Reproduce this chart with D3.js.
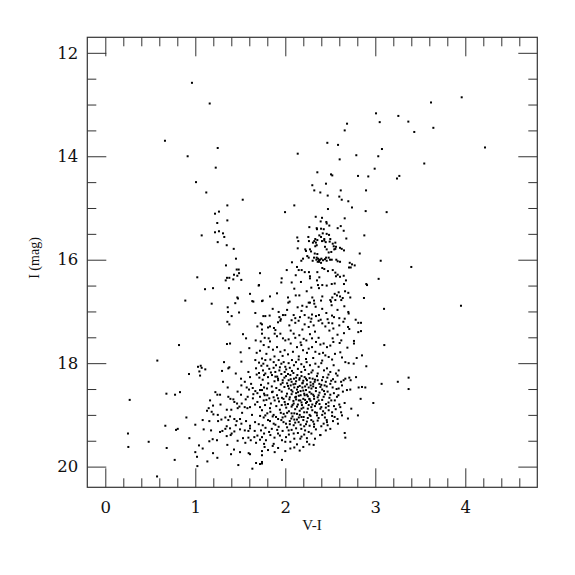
<!DOCTYPE html>
<html><head><meta charset="utf-8">
<script src="https://cdn.jsdelivr.net/npm/d3@7"></script>
<style>body{margin:0;background:#fff}</style>
</head><body>
<div id="chart"></div>
<script>
// ---- Data: [V-I, I (mag)] ----
const brightStars = [[0.963,12.58],[1.16,12.98],[0.663,13.70],[1.249,13.84],[0.915,14.00],[2.138,13.95],[1.227,14.22],[1.008,14.50],[1.122,14.70],[1.527,14.84],[1.356,14.95],[2.10,14.95],[1.219,15.11],[1.263,15.07],[1.997,15.08],[1.356,15.24],[1.244,15.29],[1.219,15.47],[1.263,15.45],[1.308,15.49],[1.322,15.56],[1.071,15.53],[2.133,15.57],
[3.96,12.86],[3.619,12.96],[3.008,13.17],[3.256,13.22],[3.367,13.33],[3.049,13.34],[2.686,13.37],[2.66,13.50],[3.645,13.45],[3.433,13.53],[2.467,13.74],[2.586,13.78],[4.219,13.83],[3.074,13.86],[2.789,13.98],[3.033,14.00],[2.604,14.06],[3.544,14.14],[2.993,14.24],[2.356,14.31],[2.508,14.35],[2.522,14.37],[2.808,14.38],[2.922,14.39],[3.241,14.43],[3.267,14.38],[2.30,14.56],[2.452,14.53],[2.322,14.66],[2.389,14.70],[2.616,14.66],[2.897,14.66],[2.471,14.76],[2.60,14.78],[2.627,14.84],[2.70,14.87],[2.741,14.99],[2.474,15.02],[2.893,15.06],[3.126,15.08],[2.338,15.17],[2.408,15.19],[2.66,15.20],[2.393,15.26],[2.456,15.27],[2.46,15.30],[2.489,15.34],[2.616,15.35],[2.267,15.37],[2.349,15.39],[2.397,15.40],[2.427,15.41],[2.352,15.41],[2.582,15.39],[2.649,15.44],[2.416,15.49],[2.46,15.50],[2.486,15.52],[2.378,15.53],[2.397,15.56],[2.878,15.53],[2.256,15.56],[2.333,15.60],[2.433,15.60],[2.50,15.60],[2.678,15.59]];

const blueBranch = [[1.249,15.66],[1.349,15.72],[1.427,15.79],[1.452,15.98],[1.341,16.11],[1.46,16.19],[1.482,16.19],[1.486,16.26],[1.43,16.29],[1.467,16.31],[1.352,16.35],[1.378,16.35],[1.022,16.34],[1.338,16.40],[1.422,16.38],[1.108,16.57],[1.197,16.55],[1.374,16.55],[1.467,16.73],[1.474,16.75],[0.889,16.79],[1.182,16.85],[1.444,16.84],[1.36,16.92],[1.363,17.01],[1.486,17.02],[1.404,17.09],[1.356,17.20],[1.378,17.25],[0.819,17.65],[1.352,17.63],[1.386,17.62],[0.578,17.95],[1.319,17.98],[1.367,18.10],[1.378,18.08],[1.03,18.07],[1.06,18.05],[1.071,18.09],[1.111,18.12],[1.511,16.39],[1.719,16.26],[1.708,16.49],[1.608,16.66],[1.704,16.50],[1.633,16.80],[1.749,16.79],[1.83,16.71],[1.908,16.65]];

const redClump = [[2.144,15.64],[2.263,15.64],[2.322,15.64],[2.356,15.62],[2.34,15.67],[2.307,15.67],[2.408,15.64],[2.433,15.63],[2.449,15.66],[2.493,15.65],[2.527,15.69],[2.556,15.67],[2.538,15.74],[2.563,15.75],[2.544,15.80],[2.556,15.79],[2.608,15.77],[2.627,15.79],[2.652,15.82],[2.138,15.78],[2.222,15.80],[2.23,15.83],[2.333,15.74],[2.349,15.72],[2.274,15.80],[2.286,15.84],[2.441,15.75],[2.46,15.80],[2.482,15.86],[2.511,15.85],[2.327,15.88],[2.356,15.89],[2.349,15.96],[2.244,15.93],[2.26,15.96],[2.197,15.98],[2.178,16.02],
[2.319,15.96],[2.345,16.0],[2.364,15.98],[2.375,16.01],[2.386,16.0],[2.401,15.98],[2.375,16.04],[2.36,16.04],[2.397,16.06],[2.419,16.01],[2.441,15.99],[2.46,16.02],[2.453,15.96],[2.482,15.96],[2.497,16.0],[2.516,16.0],
[2.304,16.02],[2.074,16.05],[2.567,16.00],[2.582,16.03],[2.608,16.04],[2.716,16.06],[2.741,16.09],[2.771,16.11],[2.708,16.15],[2.727,16.15],[2.827,15.88],[3.037,16.37],[2.90,16.47],[1.96,16.36],[2.016,16.20],[2.13,16.14],[2.149,16.20],[2.116,16.30],[2.182,16.20],[2.216,16.24],[2.263,16.24],[2.274,16.32],[2.356,16.24],[2.378,16.34],[2.352,16.40],[2.411,16.16],[2.433,16.18],[2.474,16.22],[2.527,16.20],[2.556,16.25],[2.563,16.32],[2.582,16.29],[2.608,16.33],[2.649,16.31],[2.674,16.40],[2.363,16.49],[2.374,16.55],[2.411,16.49],[2.46,16.50],[2.516,16.47],[2.549,16.46],[2.274,16.36],[2.289,16.54],[2.238,16.61],[2.174,16.43],[2.071,16.44],[2.10,16.56],[1.956,16.44],[2.116,16.69],[2.156,16.69],[2.26,16.83],[2.30,16.73],[2.319,16.79],[2.397,16.79],[2.411,16.71],[2.50,16.78],[2.522,16.73],[2.549,16.66],[2.574,16.69],[2.593,16.63],[2.608,16.71],[2.638,16.74],[2.664,16.61],[2.70,16.64],[2.652,16.47],[2.722,16.73],[2.874,16.74],[2.908,16.49],[2.03,16.73],[2.033,16.83]];

const redOutliers = [[3.06,16.02],[3.40,16.14],[3.952,16.89],[3.097,16.95],[3.10,17.65],[3.37,18.28],[3.25,18.36],[3.37,18.50],[3.07,18.40],[0.271,18.71],[0.252,19.36],[0.256,19.62]];

const leftBody = [[1.645,16.81],[1.667,17.03],[1.756,17.09],[1.69,17.29],[1.727,17.23],[1.741,17.35],[1.53,17.44],[1.564,17.52],[1.671,17.56],[1.727,17.58],[1.504,17.79],[1.60,17.71],[1.682,17.80],[1.719,17.76],[1.512,17.97],[1.667,17.94],[1.708,17.99],[1.734,18.05],[1.756,18.01],[1.045,18.16],[1.053,18.24],[0.93,18.21],[1.297,18.15],[1.308,18.36],[1.508,18.30],[1.59,18.17],[1.608,18.27],[1.675,18.10],[1.682,18.22],[1.708,18.19],[1.712,18.28],[1.749,18.32],[1.764,18.23],[1.512,18.43],[1.571,18.47],[1.597,18.51],[1.638,18.48],[1.667,18.54],[1.69,18.58],[1.719,18.52],[1.764,18.47],[1.508,18.61],[1.582,18.65],[1.645,18.60],[1.719,18.65],[1.764,18.59],[1.36,18.47],[1.367,18.65],[1.39,18.69],[1.223,18.56],[1.245,18.61],[1.275,18.61],[0.679,18.59],[0.775,18.61],[0.83,18.56],[1.164,18.72],[1.149,18.87],[1.197,18.82],[1.423,18.70],[1.434,18.75],[1.464,18.78],[1.471,18.87],[1.49,18.84],[1.516,18.78],[1.549,18.85],[1.579,18.87],[1.608,18.85],[1.664,18.80],[1.69,18.75],[1.719,18.85],[1.775,18.81],[1.13,18.92],[1.201,18.99],[1.182,18.94],[0.901,19.05],[1.082,19.10],[1.156,19.12],[1.253,19.12],[1.29,19.09],[1.334,19.05],[1.367,19.10],[1.386,19.03],[1.434,19.08],[1.46,19.12],[1.497,19.08],[1.512,19.17],[1.564,19.12],[1.608,19.21],[1.664,19.14],[1.705,19.18],[1.749,19.20],[1.0,19.19],[0.667,19.21],[0.786,19.29],[0.805,19.27],[1.093,19.28],[1.175,19.30],[1.275,19.33],[1.301,19.31],[1.334,19.27],[1.349,19.22],[1.386,19.26],[1.404,19.36],[1.434,19.32],[1.497,19.28],[1.59,19.31],[1.608,19.26],[1.66,19.31],[1.73,19.30],[1.764,19.36],[0.934,19.45],[0.482,19.52],[1.156,19.51],[1.241,19.49],[1.193,19.47],[1.349,19.41],[1.393,19.39],[1.53,19.45],[1.556,19.54],[1.59,19.44],[1.616,19.49],[1.656,19.43],[1.675,19.54],[1.719,19.48],[1.764,19.56],[1.041,19.59],[1.082,19.65],[1.356,19.58],[1.43,19.67],[1.497,19.72],[1.593,19.74],[1.608,19.76],[1.741,19.70],[0.682,19.64],[1.197,19.74],[1.245,19.83],[1.397,19.76],[1.0,19.72],[1.019,19.81],[0.771,19.87],[1.134,19.90],[1.478,19.97],[1.634,20.04],[1.675,19.93],[1.741,19.91],[1.719,19.95],[1.023,19.99],[0.575,20.19],
[1.45,18.20],[1.55,18.36],[1.62,18.40],[1.73,18.42],[1.47,18.55],[1.56,18.70],[1.64,18.68],[1.76,18.72],[1.40,18.90],[1.52,18.96],[1.63,19.00],[1.72,19.02],[1.45,19.20],[1.55,19.30],[1.69,19.40],[1.28,18.80],[1.35,18.90],[1.25,19.00],[1.47,19.50]];

const mainBody = [[1.741,16.80],[2.048,16.81],[2.137,16.92],[2.189,16.89],[2.237,16.91],[2.274,16.83],[2.322,16.85],[2.337,16.91],[2.508,16.81],[2.515,16.88],[2.556,16.78],[2.622,16.78],[2.656,16.90],[2.70,17.01],[2.704,17.04],
[1.778,17.09],[1.826,17.08],[1.926,17.01],[1.934,17.11],[1.974,17.07],[2.0,17.07],[2.093,17.07],[2.111,17.13],[2.163,17.11],[2.215,17.07],[2.26,17.12],[2.297,17.06],[2.341,17.09],[2.374,17.07],[2.393,17.16],[2.456,17.03],[2.519,17.08],[2.541,17.11],[2.60,17.13],[2.645,17.20],[2.697,17.30],[2.782,17.16],[2.811,17.22],[2.841,17.22],
[1.741,17.25],[1.808,17.31],[1.83,17.29],[1.874,17.32],[1.919,17.21],[1.945,17.18],[2.045,17.27],[2.111,17.22],[2.148,17.18],[2.215,17.25],[2.26,17.30],[2.282,17.20],[2.315,17.27],[2.37,17.18],[2.411,17.23],[2.445,17.29],[2.482,17.22],[2.522,17.23],[2.534,17.33],[2.60,17.27],[2.652,17.42],[2.711,17.34],[2.811,17.40],[2.841,17.38],
[1.741,17.43],[1.771,17.51],[1.815,17.52],[1.882,17.43],[1.908,17.48],[1.945,17.43],[1.974,17.52],[2.0,17.56],[2.037,17.54],[2.093,17.43],[2.111,17.51],[2.156,17.46],[2.204,17.53],[2.234,17.56],[2.274,17.44],[2.297,17.52],[2.341,17.59],[2.37,17.51],[2.426,17.62],[2.463,17.69],[2.526,17.52],[2.534,17.59],[2.604,17.61],[2.622,17.56],[2.763,17.57],[2.763,17.62],
[1.76,17.65],[1.815,17.69],[1.863,17.74],[1.908,17.69],[1.945,17.78],[1.993,17.75],[2.03,17.83],[2.085,17.78],[2.13,17.69],[2.178,17.65],[2.197,17.75],[2.241,17.80],[2.26,17.72],[2.297,17.69],[2.334,17.78],[2.378,17.82],[2.419,17.80],[2.445,17.85],[2.482,17.88],[2.552,17.82],[2.611,17.79],[2.667,17.98],[2.704,18.0],[2.76,18.01],[2.793,17.90],[2.852,17.85],[2.9,18.06],
[1.741,17.91],[1.778,17.94],[1.834,17.93],[1.871,17.98],[1.897,18.04],[1.926,17.94],[1.956,18.01],[1.982,17.98],[2.0,18.07],[2.037,18.0],[2.074,17.94],[2.096,18.04],[2.119,17.98],[2.148,17.93],[2.178,18.02],[2.208,18.07],[2.237,17.98],[2.274,18.04],[2.304,18.14],[2.334,18.01],[2.37,18.07],[2.4,18.0],[2.43,18.14],[2.463,18.10],[2.5,18.17],[2.537,18.04],[2.563,18.20],[2.593,18.14],[2.648,18.33],[2.667,18.30],[2.711,18.28],[2.726,18.33],[2.786,18.27],[2.815,18.47],[2.852,18.46],
[1.86,16.95],[2.02,16.97],[2.18,16.99],[2.41,16.95],[2.58,16.97],[1.95,17.15],[2.07,17.17],[2.29,17.14],[2.47,17.15],[2.66,17.14],[1.89,17.36],[2.06,17.37],[2.19,17.35],[2.33,17.39],[2.49,17.37],[2.58,17.45],[1.83,17.58],[2.06,17.62],[2.17,17.60],[2.39,17.64],[2.50,17.66],[2.69,17.70],[1.79,17.82],[1.97,17.86],[2.15,17.87],[2.31,17.90],[2.52,17.93],[2.63,17.89],[1.88,17.87],[2.23,17.92],[2.41,17.95]];

const coreBody = [[1.752,18.14],[1.778,18.20],[1.808,18.27],[1.822,18.11],[1.852,18.23],[1.889,18.17],[1.919,18.30],[1.934,18.14],[1.956,18.21],[1.971,18.33],[1.993,18.17],[2.008,18.25],[2.037,18.33],[2.056,18.23],[2.074,18.15],[2.096,18.30],[2.111,18.40],[2.134,18.23],[2.156,18.32],[2.178,18.17],[2.193,18.38],[2.215,18.27],[2.241,18.33],[2.26,18.21],[2.282,18.43],[2.304,18.30],[2.326,18.36],[2.352,18.25],[2.378,18.40],[2.408,18.33],[2.437,18.43],[2.467,18.28],[2.5,18.40],[2.526,18.47],[2.556,18.36],[2.593,18.49],[2.63,18.43],[2.685,18.52],[2.722,18.51],[2.889,18.47],
[1.741,18.52],[1.771,18.62],[1.797,18.49],[1.822,18.68],[1.852,18.56],[1.882,18.72],[1.908,18.62],[1.934,18.52],[1.963,18.67],[1.993,18.75],[2.019,18.59],[2.045,18.70],[2.067,18.52],[2.093,18.78],[2.119,18.65],[2.141,18.56],[2.167,18.72],[2.185,18.81],[2.215,18.62],[2.241,18.75],[2.267,18.69],[2.289,18.85],[2.319,18.64],[2.341,18.78],[2.37,18.72],[2.4,18.85],[2.426,18.65],[2.452,18.79],[2.482,18.91],[2.511,18.72],[2.541,18.83],[2.574,18.65],[2.611,18.85],[2.659,18.77],[2.733,18.88],[2.807,19.01],[2.837,18.69],[2.978,18.77],
[1.741,18.91],[1.778,19.01],[1.808,19.10],[1.834,18.94],[1.871,19.17],[1.897,19.04],[1.926,19.23],[1.956,19.10],[1.982,18.98],[2.008,19.17],[2.037,19.30],[2.067,19.07],[2.093,19.20],[2.13,18.98],[2.148,19.14],[2.178,19.27],[2.204,19.04],[2.23,19.18],[2.26,19.33],[2.289,19.10],[2.319,19.23],[2.352,19.01],[2.389,19.39],[2.426,19.17],[2.463,19.14],[2.5,19.27],[2.548,19.04],[2.585,19.17],[2.63,19.01],[2.696,19.07],
[1.741,19.43],[1.785,19.49],[1.834,19.39],[1.871,19.56],[1.919,19.36],[1.963,19.49],[2.008,19.43],[2.056,19.52],[2.093,19.36],[2.13,19.57],[2.167,19.46],[2.2,19.62],[2.241,19.52],[2.267,19.57],[2.315,19.58],[2.389,19.39],[2.66,19.35],[2.667,19.44],
[1.808,19.68],[1.882,19.72],[1.963,19.87],[1.741,19.78],[1.741,19.94],[2.056,19.65]];

const coreDense = [[1.80,18.05],[1.84,18.18],[1.87,18.09],[1.91,18.26],[1.94,18.08],[1.97,18.38],[2.01,18.12],[2.03,18.21],[2.05,18.09],[2.07,18.36],[2.09,18.19],[2.12,18.28],[2.14,18.11],[2.16,18.44],[2.18,18.25],[2.20,18.34],[2.22,18.13],[2.24,18.41],[2.27,18.29],[2.29,18.18],[2.31,18.45],[2.33,18.32],[2.36,18.20],[2.39,18.46],[2.42,18.27],[2.45,18.36],[2.48,18.22],[2.53,18.31],[2.58,18.24],[2.62,18.36],
[1.81,18.39],[1.85,18.45],[1.88,18.35],[1.90,18.48],[1.95,18.41],[1.99,18.46],[2.02,18.39],[2.04,18.49],[2.06,18.43],[2.08,18.55],[2.10,18.47],[2.12,18.58],[2.13,18.51],[2.15,18.63],[2.17,18.54],[2.19,18.47],[2.21,18.59],[2.23,18.52],[2.25,18.64],[2.27,18.56],[2.29,18.49],[2.31,18.61],[2.34,18.54],[2.36,18.66],[2.38,18.57],[2.41,18.51],[2.44,18.60],[2.47,18.55],[2.49,18.67],[2.54,18.58],[2.59,18.62],[2.64,18.55],
[1.79,18.71],[1.84,18.78],[1.87,18.66],[1.90,18.83],[1.93,18.74],[1.96,18.81],[1.98,18.69],[2.01,18.86],[2.03,18.79],[2.05,18.66],[2.07,18.84],[2.09,18.73],[2.11,18.89],[2.12,18.70],[2.14,18.80],[2.16,18.92],[2.18,18.76],[2.20,18.86],[2.22,18.71],[2.24,18.95],[2.26,18.81],[2.28,18.73],[2.30,18.91],[2.33,18.83],[2.35,18.96],[2.38,18.79],[2.42,18.93],[2.45,18.86],[2.48,18.76],[2.52,18.95],[2.56,18.89],[2.62,18.95],
[1.76,19.05],[1.80,18.97],[1.83,19.12],[1.86,19.03],[1.89,19.19],[1.92,19.08],[1.95,18.96],[1.98,19.14],[2.00,19.03],[2.02,19.24],[2.05,19.12],[2.07,18.97],[2.10,19.09],[2.12,19.26],[2.15,19.05],[2.17,19.19],[2.20,19.10],[2.22,19.30],[2.25,19.06],[2.27,19.21],[2.31,19.13],[2.34,19.28],[2.37,19.06],[2.40,19.22],[2.44,19.05],[2.47,19.20],[2.53,19.12],
[1.78,19.25],[1.82,19.33],[1.85,19.27],[1.88,19.44],[1.91,19.29],[1.94,19.40],[1.97,19.31],[2.00,19.52],[2.04,19.38],[2.07,19.29],[2.10,19.46],[2.14,19.35],[2.18,19.42],[2.21,19.38],[2.24,19.45],[2.29,19.36],[2.33,19.46],[2.45,19.30],
[1.77,19.62],[1.86,19.60],[1.92,19.64],[2.00,19.70],[2.10,19.63],[2.16,19.69]];

const coreCentre = [[1.92,18.33],[1.96,18.55],[1.99,18.28],[2.01,18.64],[2.03,18.44],[2.04,18.93],[2.06,18.31],[2.07,18.60],[2.08,18.81],[2.09,18.41],[2.10,18.97],[2.11,18.66],[2.12,18.35],[2.13,18.84],[2.14,18.46],[2.15,18.72],[2.16,18.29],[2.16,19.00],[2.17,18.62],[2.18,18.88],[2.19,18.39],[2.20,18.69],[2.20,18.53],[2.21,18.95],[2.22,18.45],[2.23,18.77],[2.23,18.30],[2.24,18.61],[2.25,18.88],[2.26,18.47],[2.27,18.70],[2.28,18.37],[2.28,19.02],[2.29,18.59],[2.30,18.80],[2.31,18.40],[2.32,18.69],[2.33,18.95],[2.34,18.48],[2.35,18.75],[2.36,18.33],[2.37,18.62],[2.39,18.88],[2.40,18.42],[2.41,18.71],[2.43,18.54],[2.44,18.97],[2.46,18.45],[2.48,18.83],[2.50,18.61],[2.51,18.34],[2.55,18.72],[2.57,18.50],[2.60,18.80],
[1.94,18.90],[1.97,19.05],[2.00,18.80],[2.02,18.96],[2.05,19.18],[2.08,19.03],[2.11,19.15],[2.13,19.09],[2.18,19.04],[2.21,19.22],[2.24,19.13],[2.27,19.00],[2.32,19.18],[2.36,19.11],[2.41,19.00],[2.46,19.10],[2.52,19.02],[2.58,19.08],
[1.86,18.55],[1.89,18.26],[1.92,18.68],[1.83,18.87],[1.87,19.00],[1.80,18.62]];

const xMajor = [0, 1, 2, 3, 4];
const xMinor = [0.2,0.4,0.6,0.8,1.2,1.4,1.6,1.8,2.2,2.4,2.6,2.8,3.2,3.4,3.6,3.8,4.2,4.4,4.6];
const yMajor = [12, 14, 16, 18, 20];
const yMinor = [12.5,13,13.5,14.5,15,15.5,16.5,17,17.5,18.5,19,19.5];

const stars = [].concat(brightStars, blueBranch, redClump, redOutliers, leftBody, mainBody, coreBody, coreDense, coreCentre);

// ---- Layout ----
const W = 575, H = 575;
const L = 87.3, T = 37.3, PW = 450, PH = 450;
const x = d3.scaleLinear().domain([-0.2, 4.8]).range([L, L + PW]);
const y = d3.scaleLinear().domain([11.7, 20.4]).range([T, T + PH]);

const svg = d3.select("#chart").append("svg").attr("width", W).attr("height", H);
const ink = "#333";
const tickFont = "'DejaVu Serif', serif";

function styleAxis(g) {
  g.select(".domain").remove();
  g.selectAll("line").attr("stroke", ink).attr("stroke-width", 1);
  g.selectAll("text").attr("font-family", tickFont).attr("font-size", 16.5).attr("fill", "#111");
}

// bottom
svg.append("g").attr("transform", `translate(0,${T + PH})`)
  .call(d3.axisBottom(x).tickValues(xMajor).tickSize(-19).tickPadding(14).tickFormat(d3.format("d"))).call(styleAxis);
svg.append("g").attr("transform", `translate(0,${T + PH})`)
  .call(d3.axisBottom(x).tickValues(xMinor).tickSize(-9).tickFormat("")).call(styleAxis);
// top
svg.append("g").attr("transform", `translate(0,${T})`)
  .call(d3.axisTop(x).tickValues(xMajor).tickSize(-19).tickFormat("")).call(styleAxis);
svg.append("g").attr("transform", `translate(0,${T})`)
  .call(d3.axisTop(x).tickValues(xMinor).tickSize(-9).tickFormat("")).call(styleAxis);
// left
svg.append("g").attr("transform", `translate(${L},0)`)
  .call(d3.axisLeft(y).tickValues(yMajor).tickSize(-19).tickPadding(9).tickFormat(d3.format("d"))).call(styleAxis);
svg.append("g").attr("transform", `translate(${L},0)`)
  .call(d3.axisLeft(y).tickValues(yMinor).tickSize(-9).tickFormat("")).call(styleAxis);
// right
svg.append("g").attr("transform", `translate(${L + PW},0)`)
  .call(d3.axisRight(y).tickValues(yMajor).tickSize(-19).tickFormat("")).call(styleAxis);
svg.append("g").attr("transform", `translate(${L + PW},0)`)
  .call(d3.axisRight(y).tickValues(yMinor).tickSize(-9).tickFormat("")).call(styleAxis);

// frame
svg.append("rect").attr("x", L).attr("y", T).attr("width", PW).attr("height", PH)
  .attr("fill", "none").attr("stroke", ink).attr("stroke-width", 1.2);

// points
svg.append("g").selectAll("rect").data(stars).join("rect")
  .attr("x", d => x(d[0]) - 1).attr("y", d => y(d[1]) - 1)
  .attr("width", 2).attr("height", 2).attr("fill", "#000");

// axis titles
svg.append("text").attr("x", 312).attr("y", 530).attr("text-anchor", "middle")
  .attr("font-family", "'Liberation Serif', serif").attr("font-size", 15).attr("fill", "#111").text("V-I");
svg.append("text").attr("transform", "translate(39,258) rotate(-90)").attr("text-anchor", "middle")
  .attr("font-family", "'Liberation Serif', serif").attr("font-size", 14).attr("fill", "#111").text("I (mag)");
</script>
</body></html>
